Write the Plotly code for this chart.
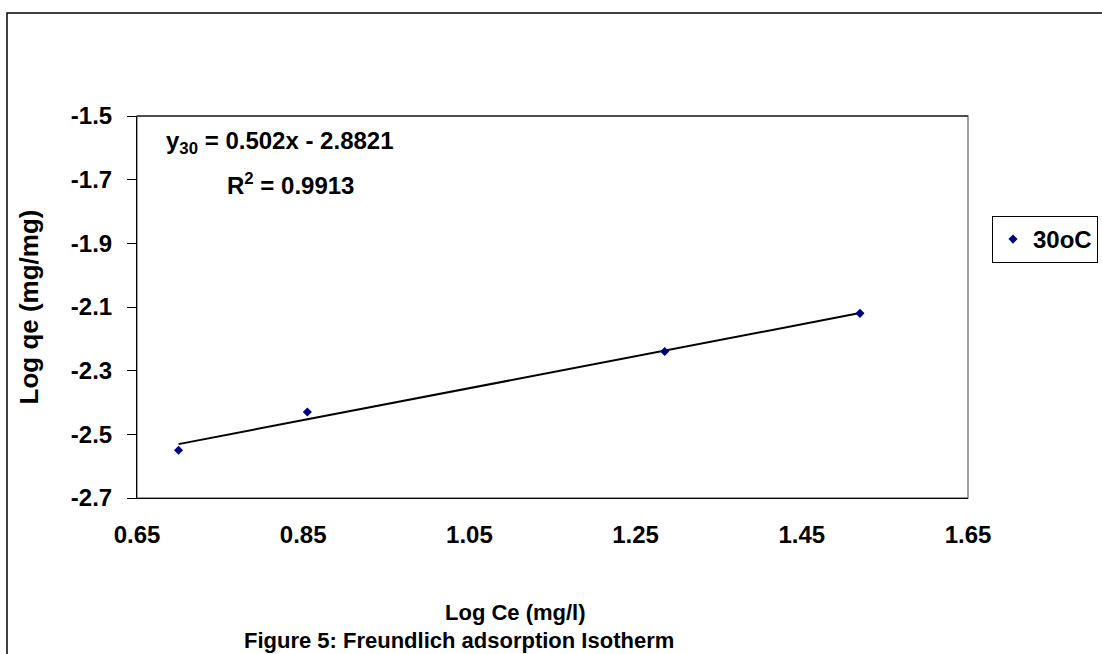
import plotly.graph_objects as go
import numpy as np

# Data
log_ce = [0.70, 0.855, 1.285, 1.52]
log_qe = [-2.55, -2.43, -2.24, -2.12]
series_name = "30oC"
slope = 0.502
intercept = -2.8821
r2 = 0.9913
x_ticks = [0.65, 0.85, 1.05, 1.25, 1.45, 1.65]
y_ticks = [-2.7, -2.5, -2.3, -2.1, -1.9, -1.7, -1.5]

FONT = "Liberation Sans, Arial, Helvetica, sans-serif"
fs_tick = 24
fs_ann = 24

PW = 831.0  # plot width in px (for paper-coordinate placement of texts)
PH = 382.0

xs = np.array([min(log_ce), max(log_ce)])
ys = slope * xs + intercept

fig = go.Figure()
fig.add_trace(go.Scatter(
    x=xs, y=ys, mode="lines", line=dict(color="black", width=2),
    showlegend=False, hoverinfo="skip"))
fig.add_trace(go.Scatter(
    x=log_ce, y=log_qe, mode="markers", name=series_name,
    marker=dict(symbol="diamond", size=7, color="#000080")))

fig.update_layout(
    width=1102, height=654,
    margin=dict(l=137, r=134, t=116, b=156, autoexpand=False),
    paper_bgcolor="white", plot_bgcolor="white",
    font=dict(family=FONT, size=fs_tick, color="black", weight="bold"),
    xaxis=dict(range=[0.65, 1.65], tickvals=x_ticks,
               ticktext=[f"{v:.2f}" for v in x_ticks],
               showgrid=False, zeroline=False, showline=True,
               linecolor="black", linewidth=1, ticks="", ticklen=0,
               ticklabelstandoff=15,
               tickfont=dict(size=fs_tick, weight="bold")),
    yaxis=dict(range=[-2.7, -1.5], tickvals=y_ticks,
               ticktext=[f"{v:.1f}" for v in y_ticks],
               showgrid=False, zeroline=False, showline=True,
               linecolor="black", linewidth=1, ticks="outside",
               ticklen=9, tickcolor="black",
               ticklabelstandoff=10,
               tickfont=dict(size=fs_tick, weight="bold"),
               title=dict(text="Log qe (mg/mg)", standoff=24,
                          font=dict(size=26, weight="bold"))),
    legend=dict(x=(992 - 137) / PW, y=(498 - 216) / PH, xanchor="left", yanchor="top",
                bordercolor="black", borderwidth=1,
                font=dict(size=24, weight="bold"),
                itemwidth=30),
    showlegend=True,
)

# plot area frame (Excel style, grey)
fig.add_shape(type="rect", xref="paper", yref="paper", x0=0, y0=0, x1=1, y1=1,
              line=dict(color="#808080", width=1.5), layer="below")
fig.add_shape(type="line", xref="paper", yref="paper", x0=0, y0=1, x1=1, y1=1,
              line=dict(color="#333333", width=1.5))
# outer chart border (left and top visible)
fig.add_shape(type="rect", xref="paper", yref="paper",
              x0=-130 / PW, y0=(498 - 13) / PH, x1=1.3, y1=-0.5,
              line=dict(color="black", width=1.5))

fig.add_annotation(xref="paper", yref="paper", x=(280 - 137) / PW, y=(498 - 142) / PH,
                   text=f"y<sub>30</sub> = {slope}x - {abs(intercept)}",
                   showarrow=False, xanchor="center", yanchor="middle",
                   font=dict(size=fs_ann, weight="bold"))
fig.add_annotation(xref="paper", yref="paper", x=(290 - 137) / PW, y=(498 - 184) / PH,
                   text=f"R<sup>2</sup> = {r2}",
                   showarrow=False, xanchor="center", yanchor="middle",
                   font=dict(size=fs_ann, weight="bold"))
fig.add_annotation(xref="paper", yref="paper", x=(515 - 137) / PW, y=(498 - 612) / PH,
                   text="Log Ce (mg/l)",
                   showarrow=False, xanchor="center", yanchor="middle",
                   font=dict(size=22, weight="bold"))
fig.add_annotation(xref="paper", yref="paper", x=(459 - 137) / PW, y=(498 - 640) / PH,
                   text="Figure 5: Freundlich adsorption Isotherm",
                   showarrow=False, xanchor="center", yanchor="middle",
                   font=dict(size=22, weight="bold"))

fig.write_html("out.html")
